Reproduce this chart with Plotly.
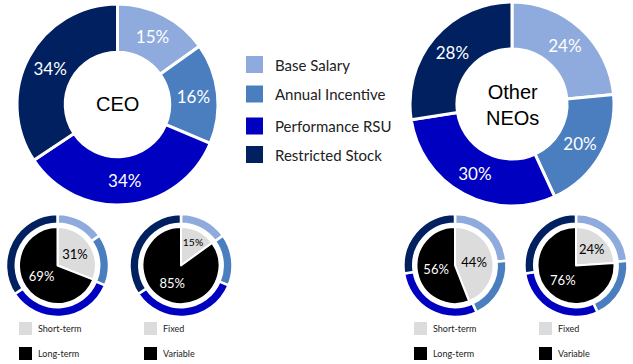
import plotly.graph_objects as go

W, H = 633, 364

components = ["Base Salary", "Annual Incentive", "Performance RSU", "Restricted Stock"]
ceo_mix = [15, 16, 34, 34]
neo_mix = [24, 20, 30, 28]

term_labels = ["Short-term", "Long-term"]
fixvar_labels = ["Fixed", "Variable"]
ceo_term = [31, 69]
ceo_fixvar = [15, 85]
neo_term = [44, 56]
neo_fixvar = [24, 76]

comp_colors = ["#8FAADC", "#4A7EBF", "#0000C0", "#002060"]
split_colors = ["#DCDCDC", "#000000"]
split_text_colors = ["#000000", "#FFFFFF"]


def dom(cx, cy, r):
    return dict(x=[(cx - r) / W, (cx + r) / W], y=[(H - cy - r) / H, (H - cy + r) / H])


fig = go.Figure()

# big donuts
for vals, (cx, cy, r, hole) in [(ceo_mix, (117.5, 104.5, 100.5, 0.52)),
                                (neo_mix, (512, 104, 102, 0.54))]:
    fig.add_trace(go.Pie(
        labels=components, values=vals, text=[f"{v}%" for v in vals],
        textinfo="text", textposition="inside", insidetextorientation="horizontal",
        textfont=dict(family="Lato", size=17, color="white"),
        hole=hole, sort=False, direction="clockwise", rotation=0,
        marker=dict(colors=comp_colors, line=dict(color="white", width=3)),
        domain=dom(cx, cy, r), showlegend=False, hoverinfo="label+text",
    ))

# small charts: outer ring + inner split pie
small = [
    (ceo_mix, ceo_term, term_labels, 57.5),
    (ceo_mix, ceo_fixvar, fixvar_labels, 181),
    (neo_mix, neo_term, term_labels, 455),
    (neo_mix, neo_fixvar, fixvar_labels, 576),
]
cy_s = 265.5
for mix, split, labs, cx in small:
    fig.add_trace(go.Pie(
        labels=components, values=mix, textinfo="none",
        hole=0.81, sort=False, direction="clockwise", rotation=0,
        marker=dict(colors=comp_colors, line=dict(color="white", width=2.5)),
        domain=dom(cx, cy_s, 51.5), showlegend=False, hoverinfo="label+percent",
    ))
    fig.add_trace(go.Pie(
        labels=labs, values=split, text=[f"{v}%" for v in split],
        textinfo="text", textposition="inside", insidetextorientation="horizontal",
        textfont=dict(family="Lato", size=13, color=split_text_colors),
        sort=False, direction="clockwise", rotation=0,
        marker=dict(colors=split_colors, line=dict(color="white", width=2)),
        domain=dom(cx, cy_s, 38.5), showlegend=False, hoverinfo="label+text",
    ))

shapes = []
annotations = []


def ann(x, y, text, size, family="Lato", color="#222222", xanchor="center"):
    annotations.append(dict(x=x / W, y=(H - y) / H, xref="paper", yref="paper",
                            text=text, showarrow=False, xanchor=xanchor, yanchor="middle",
                            font=dict(family=family, size=size, color=color)))


# center labels
ann(117.5, 104.5, "CEO", 20, family="Liberation Sans", color="black")
ann(512, 105, "Other<br>NEOs", 20, family="Liberation Sans", color="black")

# main legend
leg_y = [64.5, 94, 126, 154.5]
for lab, col, yy in zip(components, comp_colors, leg_y):
    shapes.append(dict(type="rect", xref="paper", yref="paper",
                       x0=246 / W, x1=263 / W, y0=(H - yy - 8.5) / H, y1=(H - yy + 8.5) / H,
                       fillcolor=col, line=dict(width=0)))
    ann(273, yy, lab, 15, xanchor="left")

# small legends
small_leg_x = [19, 144, 414, 539]
small_leg_y = [328.5, 353.5]
for (mix, split, labs, cx), lx in zip(small, small_leg_x):
    for lab, col, yy in zip(labs, split_colors, small_leg_y):
        shapes.append(dict(type="rect", xref="paper", yref="paper",
                           x0=lx / W, x1=(lx + 13) / W, y0=(H - yy - 6.5) / H, y1=(H - yy + 6.5) / H,
                           fillcolor=col, line=dict(width=0)))
        ann(lx + 17, yy, lab, 9, xanchor="left")

fig.update_layout(
    width=W, height=H, margin=dict(l=0, r=0, t=0, b=0),
    paper_bgcolor="white", plot_bgcolor="white",
    shapes=shapes, annotations=annotations, showlegend=False,
)

fig.write_html("out.html", config={"displayModeBar": False},
               post_script="document.body.style.margin='0';document.body.style.overflow='hidden';")
